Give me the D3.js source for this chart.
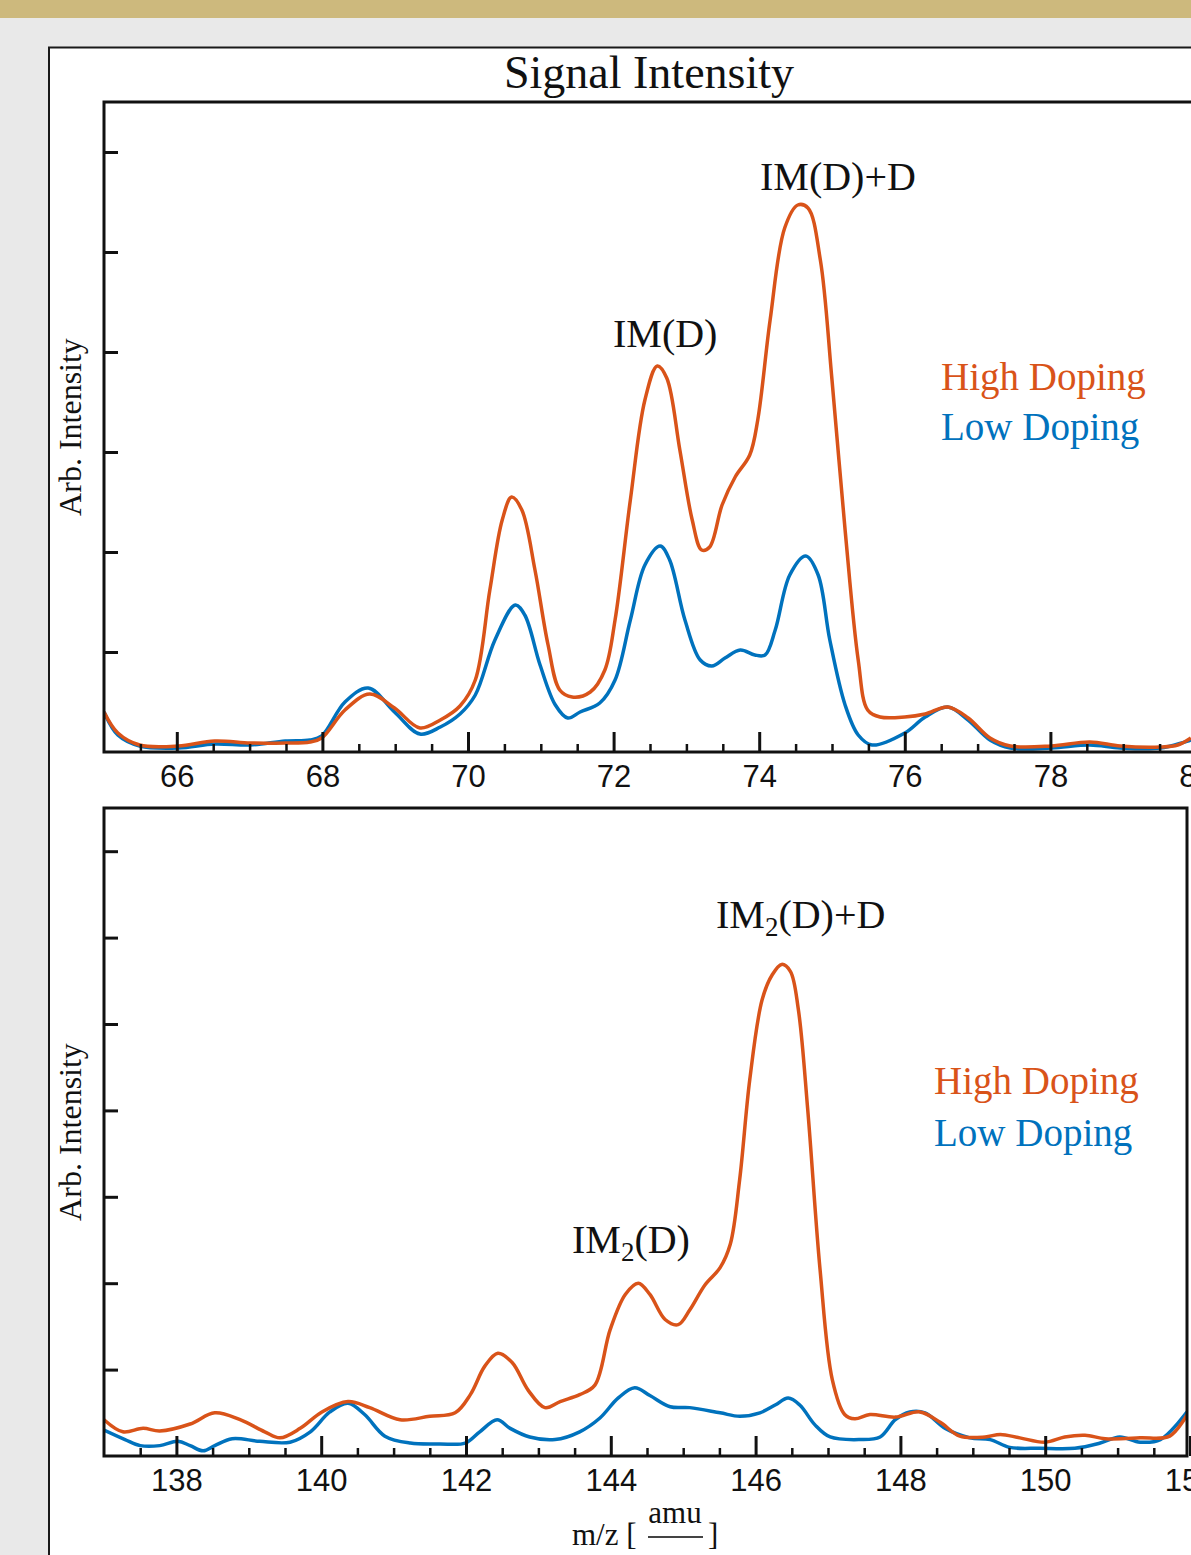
<!DOCTYPE html>
<html>
<head>
<meta charset="utf-8">
<script src="https://cdn.jsdelivr.net/npm/d3@7"></script>
<style>
  html, body { margin: 0; padding: 0; background: #E9E9E9; }
  svg { display: block; }
</style>
</head>
<body>
<svg id="chart" width="1191" height="1555"></svg>
<script>
// ---------------- DATA ----------------
const title = "Signal Intensity";
const seriesNames = ["High Doping", "Low Doping"];

// Top panel (m/z 65 - 80)
const topHighMz  = [65.00,65.19,65.49,66.02,66.52,67.01,67.49,67.83,67.99,68.31,68.65,68.99,69.34,69.62,69.89,70.10,70.30,70.47,70.60,70.74,70.92,71.10,71.26,71.43,71.68,71.88,72.02,72.23,72.43,72.60,72.73,72.91,73.08,73.21,73.32,73.49,73.67,73.87,73.98,74.15,74.35,74.53,74.67,74.84,75.00,75.18,75.36,75.49,75.66,76.00,76.28,76.59,76.87,77.17,77.45,78.01,78.54,78.96,79.51,79.75,79.93];
const topHighVal = [0.40,0.19,0.07,0.06,0.11,0.09,0.09,0.10,0.14,0.42,0.58,0.44,0.24,0.32,0.46,0.72,1.62,2.32,2.55,2.42,1.82,1.07,0.62,0.55,0.60,0.82,1.32,2.52,3.52,3.86,3.74,3.02,2.32,2.02,2.05,2.47,2.75,2.97,3.32,4.32,5.24,5.47,5.44,4.92,3.72,2.22,0.92,0.42,0.35,0.35,0.38,0.45,0.34,0.14,0.06,0.06,0.10,0.06,0.05,0.07,0.14];
const topLowMz   = [65.00,65.19,65.49,66.02,66.52,67.01,67.49,67.83,67.99,68.31,68.63,68.99,69.34,69.62,69.89,70.10,70.37,70.65,70.78,70.99,71.20,71.37,71.54,71.81,72.02,72.23,72.43,72.64,72.77,72.98,73.19,73.35,73.53,73.74,73.94,74.08,74.22,74.42,74.64,74.81,74.97,75.18,75.36,75.55,76.00,76.28,76.59,76.87,77.17,77.45,78.01,78.54,78.96,79.51,79.93];
const topLowVal  = [0.40,0.17,0.06,0.04,0.08,0.07,0.11,0.12,0.16,0.50,0.64,0.40,0.18,0.25,0.38,0.57,1.12,1.47,1.37,0.87,0.47,0.34,0.40,0.49,0.72,1.32,1.87,2.06,1.92,1.32,0.92,0.86,0.94,1.02,0.97,0.97,1.22,1.77,1.96,1.77,1.12,0.47,0.17,0.07,0.19,0.35,0.45,0.32,0.12,0.04,0.04,0.07,0.04,0.04,0.12];

// Bottom panel (m/z 137 - 152)
const botHighMz  = [137.00,137.26,137.54,137.77,138.19,138.53,138.88,139.22,139.43,139.71,140.01,140.37,140.67,141.09,141.50,141.85,142.06,142.26,142.44,142.64,142.86,143.09,143.30,143.57,143.78,143.99,144.20,144.38,144.54,144.75,144.93,145.09,145.30,145.51,145.65,145.78,145.92,146.09,146.23,146.36,146.48,146.59,146.72,146.89,147.06,147.23,147.37,147.58,147.93,148.27,148.55,148.82,149.17,149.38,149.65,150.00,150.27,150.55,150.83,151.31,151.72,151.96];
const botHighVal = [0.42,0.28,0.32,0.29,0.37,0.50,0.42,0.28,0.21,0.32,0.51,0.63,0.56,0.42,0.46,0.50,0.71,1.04,1.19,1.08,0.76,0.56,0.63,0.71,0.82,1.46,1.87,2.00,1.87,1.58,1.52,1.69,1.98,2.18,2.45,3.20,4.36,5.28,5.57,5.69,5.61,5.17,4.01,2.16,0.88,0.48,0.43,0.48,0.45,0.51,0.39,0.23,0.22,0.25,0.21,0.16,0.22,0.24,0.20,0.21,0.23,0.48];
const botLowMz   = [137.00,137.29,137.50,137.77,138.02,138.19,138.37,138.53,138.77,139.15,139.57,139.85,140.12,140.37,140.60,140.88,141.23,141.64,141.99,142.19,142.43,142.61,142.88,143.23,143.57,143.85,144.10,144.33,144.54,144.82,145.09,145.51,145.78,146.06,146.27,146.45,146.61,146.82,147.03,147.44,147.72,147.93,148.13,148.34,148.62,148.96,149.24,149.51,149.93,150.41,150.76,151.03,151.31,151.59,151.96];
const botLowVal  = [0.30,0.19,0.12,0.12,0.17,0.12,0.06,0.12,0.20,0.17,0.16,0.28,0.51,0.61,0.48,0.23,0.15,0.14,0.15,0.28,0.42,0.32,0.22,0.19,0.28,0.44,0.67,0.79,0.70,0.57,0.56,0.50,0.46,0.50,0.59,0.67,0.59,0.36,0.22,0.19,0.22,0.42,0.51,0.50,0.32,0.21,0.19,0.10,0.09,0.09,0.15,0.22,0.16,0.19,0.51];

const topXTicks = [66, 68, 70, 72, 74, 76, 78, 80];
const botXTicks = [138, 140, 142, 144, 146, 148, 150, 152];
const topYTicks = [1, 2, 3, 4, 5, 6];
const botYTicks = [1, 2, 3, 4, 5, 6, 7];

// ---------------- STYLE ----------------
const colHigh = "#D95319";
const colLow = "#0072BD";
const serif = "'Liberation Serif', 'Times New Roman', serif";
const sans = "'Liberation Sans', Arial, sans-serif";

const svg = d3.select("#chart");

// background, gold bar, card
svg.append("rect").attr("x", 0).attr("y", 0).attr("width", 1191).attr("height", 1555).attr("fill", "#E9E9E9");
svg.append("rect").attr("x", 0).attr("y", 0).attr("width", 1191).attr("height", 18).attr("fill", "#CDB97D");
svg.append("rect").attr("x", 49).attr("y", 47.5).attr("width", 1200).attr("height", 1560)
  .attr("fill", "#fff").attr("stroke", "#1a1a1a").attr("stroke-width", 2);

svg.append("text").attr("x", 649).attr("y", 88).attr("text-anchor", "middle")
  .attr("font-family", serif).attr("font-size", 46).attr("fill", "#111").text(title);

function panel(cfg) {
  const { left, right, top, bottom, xDomain, yMax, xTicks, yTicks, series, id } = cfg;
  const x = d3.scaleLinear().domain(xDomain).range([left, cfg.xEnd]);
  const y = d3.scaleLinear().domain([0, yMax]).range([bottom, top]);
  const g = svg.append("g");

  g.append("clipPath").attr("id", id).append("rect")
    .attr("x", left).attr("y", top).attr("width", right - left).attr("height", bottom - top);

  const line = d3.line().x(d => x(d[0])).y(d => y(d[1])).curve(d3.curveCatmullRom.alpha(0.5));
  series.forEach(s => {
    const pts = d3.zip(s.mz, s.val);
    g.append("path").attr("d", line(pts)).attr("fill", "none")
      .attr("stroke", s.color).attr("stroke-width", 3.5)
      .attr("stroke-linejoin", "round").attr("clip-path", `url(#${id})`);
  });

  // minor x ticks
  const minor = d3.range(xDomain[0] + 0.5, xDomain[1] + 0.01, 0.5).filter(v => !xTicks.includes(v));
  const minorAxis = d3.axisBottom(x).tickValues(minor).tickSizeInner(-8).tickSizeOuter(0).tickFormat("");
  const ma = g.append("g").attr("transform", `translate(0,${bottom})`).call(minorAxis);
  ma.select(".domain").remove();
  ma.selectAll("line").attr("stroke", "#111").attr("stroke-width", 2.5);

  // major x ticks + labels
  const majorAxis = d3.axisBottom(x).tickValues(xTicks).tickSizeInner(-20).tickSizeOuter(0).tickPadding(13).tickFormat(d3.format("d"));
  const mj = g.append("g").attr("transform", `translate(0,${bottom})`).call(majorAxis);
  mj.select(".domain").remove();
  mj.selectAll("line").attr("stroke", "#111").attr("stroke-width", 3);
  mj.selectAll("text").attr("font-family", sans).attr("font-size", 31).attr("fill", "#111");

  // y ticks
  const yAxis = d3.axisLeft(y).tickValues(yTicks).tickSizeInner(-14).tickSizeOuter(0).tickFormat("");
  const ya = g.append("g").attr("transform", `translate(${left},0)`).call(yAxis);
  ya.select(".domain").remove();
  ya.selectAll("line").attr("stroke", "#111").attr("stroke-width", 3);

  // frame
  g.append("rect").attr("x", left).attr("y", top).attr("width", right - left).attr("height", bottom - top)
    .attr("fill", "none").attr("stroke", "#111").attr("stroke-width", 3);

  // y label
  g.append("text").attr("transform", `translate(81,${(top + bottom) / 2}) rotate(-90)`)
    .attr("text-anchor", "middle").attr("font-family", serif).attr("font-size", 32).attr("fill", "#111")
    .text("Arb. Intensity");

  return { x, y, g };
}

panel({
  id: "clipTop", left: 104, right: 1196, xEnd: 1196, top: 102, bottom: 752,
  xDomain: [65, 80], yMax: 6.5, xTicks: topXTicks, yTicks: topYTicks,
  series: [
    { mz: topLowMz, val: topLowVal, color: colLow },
    { mz: topHighMz, val: topHighVal, color: colHigh }
  ]
});

panel({
  id: "clipBot", left: 104, right: 1187, xEnd: 1190, top: 808, bottom: 1456,
  xDomain: [137, 152], yMax: 7.5, xTicks: botXTicks, yTicks: botYTicks,
  series: [
    { mz: botLowMz, val: botLowVal, color: colLow },
    { mz: botHighMz, val: botHighVal, color: colHigh }
  ]
});

// annotations
function label(x, y, parts) {
  const t = svg.append("text").attr("x", x).attr("y", y).attr("font-family", serif)
    .attr("font-size", 40).attr("fill", "#111");
  parts.forEach(p => {
    if (p.sub) {
      t.append("tspan").attr("font-size", 27).attr("dy", 8).text(p.t);
    } else {
      t.append("tspan").attr("dy", p.after ? -8 : 0).text(p.t);
    }
  });
  return t;
}
label(760, 190, [{ t: "IM(D)+D" }]);
label(613, 347, [{ t: "IM(D)" }]);
label(716, 928, [{ t: "IM" }, { t: "2", sub: true }, { t: "(D)+D", after: true }]);
label(572, 1253, [{ t: "IM" }, { t: "2", sub: true }, { t: "(D)", after: true }]);

// legends
[[941, 390, 440], [934, 1094, 1146]].forEach(([lx, y1, y2]) => {
  svg.append("text").attr("x", lx).attr("y", y1).attr("font-family", serif).attr("font-size", 39)
    .attr("fill", colHigh).text(seriesNames[0]);
  svg.append("text").attr("x", lx).attr("y", y2).attr("font-family", serif).attr("font-size", 39)
    .attr("fill", colLow).text(seriesNames[1]);
});

// x-axis label m/z [amu / ---]
svg.append("text").attr("x", 572).attr("y", 1545).attr("font-family", serif).attr("font-size", 31)
  .attr("fill", "#111").text("m/z [");
svg.append("text").attr("x", 675).attr("y", 1523).attr("text-anchor", "middle").attr("font-family", serif)
  .attr("font-size", 31).attr("fill", "#111").text("amu");
svg.append("line").attr("x1", 648).attr("x2", 703).attr("y1", 1537).attr("y2", 1537)
  .attr("stroke", "#444").attr("stroke-width", 2);
svg.append("text").attr("x", 708).attr("y", 1545).attr("font-family", serif).attr("font-size", 31)
  .attr("fill", "#111").text("]");
</script>
</body>
</html>
